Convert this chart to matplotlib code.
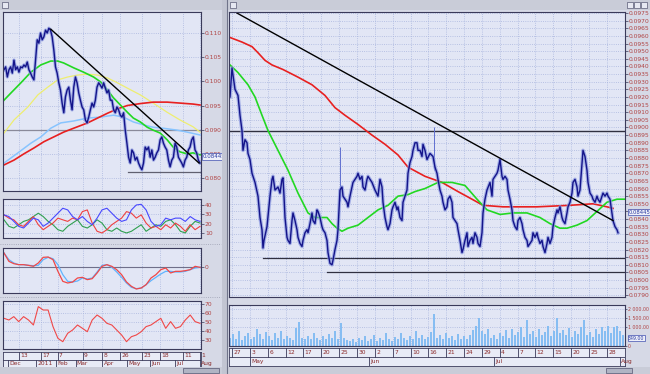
import matplotlib
matplotlib.use('Agg')
import matplotlib.pyplot as plt
import matplotlib.transforms as mtransforms
from matplotlib.patches import Rectangle
from matplotlib.lines import Line2D
import numpy as np

# ---------------- right window: intraday bars, 27 Apr - 1 Aug ----------------
r_bar = [0, 2, 5, 8, 10, 12, 13, 15, 17, 18,
         20, 22, 25, 28, 30, 32, 33, 34, 37, 40,
         42, 43, 45, 48, 50, 52, 53, 54, 55, 57,
         58, 60, 62, 63, 65, 67, 68, 70, 72, 73,
         75, 77, 78, 80, 82, 83, 85, 87, 88, 90,
         92, 93, 95, 97, 98, 100, 102, 103, 105, 107,
         108, 110, 112, 113, 115, 117, 118, 120, 122, 123,
         125, 127, 128, 130, 132, 133, 135, 137, 138, 142,
         145, 148, 150, 152, 153, 155, 157, 158, 160, 162,
         163, 165, 167, 168, 170, 172, 173, 175, 177, 178,
         180, 182, 183, 185, 187, 188, 190, 192, 193, 195,
         197, 200, 203, 205, 207, 208, 210, 212, 213, 215,
         217, 218, 220, 222, 223, 227, 228, 230, 232, 233,
         235, 237, 238, 240, 242, 243, 245, 247, 248, 250,
         252, 253, 255, 257, 260, 262, 263, 265, 267, 268,
         270, 272, 273, 275, 277, 278, 280, 282, 283, 285,
         287, 288, 290, 292, 293, 295, 297, 298, 300, 302,
         303, 305, 307, 308, 310, 312, 313, 315, 317, 318,
         320, 322, 323, 325, 327, 328, 330, 332, 333, 335,
         337, 338, 340, 342, 343, 345, 347, 348, 350, 352,
         353, 355, 357, 358, 360, 362, 363, 365, 367, 368,
         370, 372, 373, 375, 377, 378, 380, 382, 383, 385,
         387, 388]
r_close = [0.0920, 0.0939, 0.0925, 0.0921, 0.0908, 0.0898, 0.0885, 0.0892, 0.0890, 0.0883,
           0.0879, 0.0870, 0.0864, 0.0855, 0.0841, 0.0833, 0.0821, 0.0826, 0.0835, 0.0855,
           0.0866, 0.0868, 0.0859, 0.0861, 0.0857, 0.0866, 0.0867, 0.0855, 0.0841, 0.0828,
           0.0826, 0.0824, 0.0839, 0.0844, 0.0839, 0.0833, 0.0828, 0.0824, 0.0822, 0.0826,
           0.0831, 0.0833, 0.0831, 0.0837, 0.0844, 0.0839, 0.0837, 0.0846, 0.0845, 0.0841,
           0.0835, 0.0833, 0.0831, 0.0826, 0.0818, 0.0811, 0.0810, 0.0813, 0.0820, 0.0826,
           0.0833, 0.0859, 0.0861, 0.0855, 0.0853, 0.0851, 0.0848, 0.0855, 0.0861, 0.0864,
           0.0866, 0.0868, 0.0870, 0.0866, 0.0868, 0.0861, 0.0859, 0.0866, 0.0868, 0.0864,
           0.0859, 0.0855, 0.0866, 0.0861, 0.0851, 0.0841, 0.0835, 0.0833, 0.0837, 0.0846,
           0.0848, 0.0851, 0.0846, 0.0848, 0.0841, 0.0839, 0.0851, 0.0855, 0.0859, 0.0870,
           0.0877, 0.0881, 0.0885, 0.0890, 0.0890, 0.0885, 0.0885, 0.0881, 0.0889, 0.0885,
           0.0879, 0.0883, 0.0881, 0.0874, 0.0870, 0.0866, 0.0859, 0.0855, 0.0851, 0.0846,
           0.0848, 0.0853, 0.0855, 0.0851, 0.0841, 0.0837, 0.0833, 0.0826, 0.0818, 0.0820,
           0.0826, 0.0831, 0.0822, 0.0826, 0.0828, 0.0824, 0.0831, 0.0828, 0.0824, 0.0822,
           0.0831, 0.0844, 0.0853, 0.0859, 0.0864, 0.0855, 0.0866, 0.0868, 0.0870, 0.0872,
           0.0879, 0.0868, 0.0866, 0.0868, 0.0866, 0.0859, 0.0853, 0.0846, 0.0839, 0.0835,
           0.0833, 0.0839, 0.0841, 0.0837, 0.0833, 0.0828, 0.0826, 0.0822, 0.0824, 0.0826,
           0.0831, 0.0828, 0.0831, 0.0828, 0.0824, 0.0826, 0.0822, 0.0818, 0.0824, 0.0828,
           0.0824, 0.0828, 0.0835, 0.0841, 0.0846, 0.0844, 0.0848, 0.0841, 0.0839, 0.0837,
           0.0844, 0.0848, 0.0851, 0.0857, 0.0864, 0.0866, 0.0861, 0.0855, 0.0859, 0.0877,
           0.0885, 0.0881, 0.0872, 0.0864, 0.0857, 0.0855, 0.0853, 0.0851, 0.0855, 0.0853,
           0.0851, 0.0855, 0.0857, 0.0855, 0.0857, 0.0855, 0.0853, 0.0844, 0.0839, 0.0835,
           0.0833, 0.0831]
r_spike_bar = [110, 204]
r_spike_lo = [0.0852, 0.0872]
r_spike_hi = [0.0887, 0.0900]

r_red_bar = [0, 12, 22, 28, 35, 42, 53, 68, 82, 95, 105, 115, 128, 142, 155, 168,
             178, 195, 212, 228, 242, 253, 273, 307, 340, 363, 377, 383]
r_red = [0.0959, 0.0956, 0.0953, 0.0949, 0.0944, 0.0941, 0.0938, 0.0933, 0.0928, 0.0921,
         0.0913, 0.0908, 0.0902, 0.0895, 0.0889, 0.0882, 0.0874, 0.0868, 0.0864, 0.0858,
         0.0853, 0.0849, 0.0848, 0.0848, 0.0849, 0.0850, 0.0848, 0.0847]
r_green_bar = [0, 8, 18, 25, 32, 38, 48, 58, 68, 78, 85, 92, 97, 102, 107, 112, 118, 128,
               138, 148, 158, 168, 178, 185, 195, 208, 222, 235, 247, 257, 270, 283, 297,
               310, 320, 330, 337, 347, 357, 367, 377, 387, 395]
r_green = [0.0941, 0.0936, 0.0928, 0.0920, 0.0908, 0.0898, 0.0885, 0.0872, 0.0857, 0.0844,
           0.0841, 0.0841, 0.0841, 0.0837, 0.0834, 0.0832, 0.0834, 0.0836, 0.0841, 0.0846,
           0.0849, 0.0855, 0.0856, 0.0858, 0.0860, 0.0864, 0.0864, 0.0862, 0.0853, 0.0846,
           0.0843, 0.0844, 0.0844, 0.0841, 0.0837, 0.0834, 0.0834, 0.0836, 0.0839, 0.0845,
           0.0851, 0.0853, 0.0853]

r_trend_bar = [7, 383]
r_trend = [0.0975, 0.0839]
r_level = 0.0898
r_support_start = [33, 97]
r_support = [0.08145, 0.08053]
r_last = 0.08445

r_vol = [420, 650, 380, 820, 300, 560, 700, 350, 480, 900,
         620, 400, 750, 520, 300, 680, 450, 820, 380, 560,
         420, 300, 980, 1300, 450, 380, 520, 350, 700, 420,
         300, 520, 380, 620, 450, 800, 350, 1250, 420, 300,
         250, 380, 200, 450, 300, 520, 280, 350, 600, 250,
         420, 300, 680, 380, 250, 500, 350, 700, 420, 300,
         550, 380, 800, 450, 600, 350, 500, 750, 1700, 420,
         600, 380, 700, 450, 550, 300, 650, 400, 520, 350,
         600, 850, 1100, 1500, 800, 650, 900, 450, 600, 380,
         700, 550, 850, 420, 900, 600, 750, 1000, 500, 1400,
         650, 800, 500, 900, 600, 750, 1100, 550, 800, 1500,
         700, 850, 600, 950, 500, 800, 650, 1000, 1400, 600,
         750, 500, 900, 650, 1000, 800, 1100, 700, 1000, 1100,
         800, 600]

r_day_bar = [2, 20, 38, 56, 73, 91, 109, 127, 145, 163, 181, 198, 216, 234, 252, 270,
             288, 305, 323, 341, 359, 377]
r_day_lbl = ['27', '3', '6', '12', '17', '20', '25', '30', '2', '7', '10', '16', '21', '24',
             '29', '4', '7', '12', '15', '20', '25', '28']
r_mon_bar = [20, 139, 264, 390]
r_mon_lbl = ['May', 'Jun', 'Jul', 'Aug']

# ---------------- left window: daily, Dec 2010 - Aug 2011 ----------------
l_close = [0.1024, 0.1030, 0.1009, 0.1024, 0.1030, 0.1017, 0.1044, 0.1024, 0.1030, 0.1019,
           0.1030, 0.1028, 0.1034, 0.1030, 0.1040, 0.1024, 0.1017, 0.1009, 0.1003, 0.1044,
           0.1086, 0.1079, 0.1100, 0.1086, 0.1092, 0.1106, 0.1100, 0.1110, 0.1106, 0.1092,
           0.1065, 0.1030, 0.1017, 0.0997, 0.0982, 0.0955, 0.0935, 0.0968, 0.0982, 0.0988,
           0.0961, 0.0941, 0.0988, 0.1009, 0.0997, 0.0976, 0.0961, 0.0947, 0.0941, 0.0920,
           0.0914, 0.0926, 0.0941, 0.0955, 0.0947, 0.0961, 0.0988, 0.0997, 0.0992, 0.0986,
           0.0997, 0.0986, 0.0976, 0.0982, 0.0961, 0.0961, 0.0941, 0.0935, 0.0947, 0.0941,
           0.0930, 0.0926, 0.0935, 0.0899, 0.0872, 0.0843, 0.0831, 0.0858, 0.0852, 0.0837,
           0.0843, 0.0831, 0.0823, 0.0817, 0.0831, 0.0864, 0.0858, 0.0864, 0.0843, 0.0858,
           0.0837, 0.0843, 0.0852, 0.0858, 0.0879, 0.0885, 0.0872, 0.0864, 0.0858, 0.0837,
           0.0823, 0.0837, 0.0843, 0.0872, 0.0864, 0.0843, 0.0837, 0.0831, 0.0823, 0.0837,
           0.0843, 0.0858, 0.0864, 0.0879, 0.0885, 0.0858, 0.0852, 0.0837, 0.0831]

l_green_day = [0, 7, 17, 27, 37, 47, 54, 60, 70, 80, 90, 97, 104, 110, 117, 124, 130, 137,
               144, 150, 157, 164, 170, 177, 184, 190, 197]
l_green = [0.0961, 0.0976, 0.0997, 0.1019, 0.1034, 0.1042, 0.1042, 0.1038, 0.1028, 0.1019,
           0.1009, 0.0999, 0.0982, 0.0966, 0.0951, 0.0936, 0.0924, 0.0916, 0.0905, 0.0899,
           0.0893, 0.0879, 0.0864, 0.0854, 0.0850, 0.0852, 0.0848]
l_red_day = [0, 10, 20, 30, 40, 50, 60, 70, 84, 94, 104, 114, 124, 137, 150, 164, 177, 190, 197]
l_red = [0.0827, 0.0837, 0.0850, 0.0862, 0.0875, 0.0885, 0.0895, 0.0903, 0.0914, 0.0924,
         0.0934, 0.0943, 0.0950, 0.0954, 0.0957, 0.0957, 0.0955, 0.0953, 0.0951]
l_blue_day = [0, 14, 27, 37, 47, 57, 70, 84, 97, 110, 120, 130, 140, 150, 160, 174, 184, 197]
l_blue = [0.0831, 0.0852, 0.0872, 0.0885, 0.0903, 0.0914, 0.0918, 0.0924, 0.0926, 0.0930,
          0.0926, 0.0916, 0.0910, 0.0905, 0.0903, 0.0899, 0.0895, 0.0889]
l_yellow_day = [0, 10, 24, 34, 44, 54, 64, 74, 84, 94, 104, 114, 124, 137, 150, 164, 177, 190, 197]
l_yellow = [0.0893, 0.0920, 0.0947, 0.0972, 0.0988, 0.1003, 0.1009, 0.1013, 0.1015, 0.1013,
            0.1007, 0.0997, 0.0986, 0.0972, 0.0955, 0.0936, 0.0920, 0.0906, 0.0895]

l_trend_day = [47, 196]
l_trend = [0.1108, 0.0831]
l_level = 0.0900
l_support_start = 125
l_support = 0.0813
l_last = 0.08445

l_dmi_blue = [29.4, 27.6, 22.4, 17.1, 15.3, 20.6, 25.9, 24.1, 17.1, 20.6, 25.9, 31.2, 36.5, 34.7,
              27.6, 24.1, 27.6, 22.4, 18.8, 25.9, 34.7, 36.5, 31.2, 25.9, 22.4, 24.1, 34.7, 40.0,
              40.7, 34.7, 22.4, 17.1, 18.8, 25.9, 24.1, 25.9, 25.9, 22.4, 27.6, 24.1, 22.4]
l_dmi_red = [29.4, 25.9, 24.1, 18.8, 17.1, 22.4, 27.6, 18.8, 13.5, 17.1, 20.6, 25.9, 24.1, 22.4,
             25.9, 24.1, 32.9, 34.7, 20.6, 11.8, 10.0, 13.5, 18.8, 22.4, 25.9, 32.9, 31.2, 25.9,
             29.4, 20.6, 15.3, 17.1, 13.5, 18.8, 15.3, 20.6, 17.1, 11.8, 18.8, 13.5, 17.1]
l_dmi_green = [24.1, 17.1, 15.3, 18.8, 22.4, 24.1, 27.6, 31.2, 27.6, 22.4, 18.8, 13.5, 11.8, 17.1,
               20.6, 24.1, 17.1, 15.3, 18.8, 24.1, 20.6, 13.5, 11.8, 15.3, 11.8, 10.0, 11.8, 15.3,
               18.8, 11.8, 15.3, 18.8, 17.1, 22.4, 24.1, 18.8, 11.8, 10.0, 17.1, 22.4, 20.6]
l_macd = [4.3, 1.8, 1.1, 0.8, 0.8, 0.6, 0.3, 1.3, 3.0, 3.1, 2.3, -1.2, -4.2, -4.7, -4.4, -3.2,
          -3.0, -3.7, -3.4, -1.7, 0.3, 0.8, 0.3, -0.7, -2.2, -4.4, -5.7, -6.5, -6.2, -5.2, -3.2,
          -2.2, -0.7, -0.2, -1.7, -1.2, -1.2, -1.0, -0.7, 0.3, 0.0]
l_signal = [4.3, 2.3, 1.3, 0.8, 0.8, 0.6, 0.5, 0.6, 2.3, 3.0, 2.6, 0.8, -2.2, -4.2, -4.4, -4.1,
            -3.2, -3.5, -3.2, -1.4, 0.6, 0.8, 0.0, -1.4, -3.0, -4.7, -6.0, -6.4, -6.2, -5.2, -4.0,
            -3.0, -2.0, -1.2, -1.2, -1.4, -1.4, -1.2, -0.7, -0.2, 0.0]
l_rsi = [54.3, 52.4, 56.2, 50.6, 56.2, 52.4, 46.8, 67.4, 63.6, 63.6, 45.0, 31.9, 28.1, 37.5,
         41.2, 46.8, 43.1, 39.3, 52.4, 58.0, 54.3, 48.7, 46.8, 41.2, 35.6, 28.1, 33.7, 35.6,
         39.3, 45.0, 46.8, 50.6, 54.3, 43.1, 50.6, 43.1, 45.0, 52.4, 58.0, 50.6, 48.7]

l_day_sep = [15, 37, 54, 79, 99, 117, 139, 157, 180, 197]
l_day_lbl = ['13', '17', '7', '9', '8', '26', '23', '18', '11', '1']
l_mon_sep = [4, 32, 52, 72, 99, 124, 147, 172, 197]
l_mon_lbl = ['Dec', '2011', 'Feb', 'Mar', 'Apr', 'May', 'Jun', 'Jul', 'Aug']

# ---------------- drawing ----------------
W, H = 650, 374
BG = '#e2e6f5'
FRAME = '#d6d9e6'
GRID = '#a9b5de'
EDGE = '#3a3a5a'
TXT = '#b04444'
DATE = '#8a2a2a'
NAVY = '#14148a'

fig = plt.figure(figsize=(W / 100, H / 100), dpi=100, facecolor=FRAME)


def rect(x, y, w, h, fc, ec='none', lw=0.6):
    fig.add_artist(Rectangle((x / W, 1 - (y + h) / H), w / W, h / H,
                             transform=fig.transFigure, fc=fc, ec=ec, lw=lw))


def panel(x0, y0, x1, y1, fs=4.3, tlen=2):
    ax = fig.add_axes([x0 / W, 1 - y1 / H, (x1 - x0) / W, (y1 - y0) / H])
    ax.set_facecolor(BG)
    for s in ax.spines.values():
        s.set_color(EDGE)
        s.set_linewidth(0.8)
    ax.yaxis.tick_right()
    ax.tick_params(axis='y', labelsize=fs, colors=EDGE, labelcolor=TXT,
                   length=tlen, width=0.5, pad=0.8)
    ax.tick_params(axis='x', length=0, labelbottom=False)
    ax.grid(True, ls=':', lw=0.6, color=GRID)
    ax.set_axisbelow(True)
    return ax


def last_box(ax, val, txt, fs=4.3):
    tr = mtransforms.blended_transform_factory(ax.transAxes, ax.transData)
    ax.text(1.008, val, txt, transform=tr, fontsize=fs, color='#2a3aa0', va='center',
            ha='left', zorder=10,
            bbox=dict(boxstyle='square,pad=0.12', fc='#eef0fa', ec='#4050b0', lw=0.5))


def date_axis(x0, x1, y0, hgt, xlim, day_pos, day_lbl, mon_pos, mon_lbl):
    ax = fig.add_axes([x0 / W, 1 - (y0 + hgt) / H, (x1 - x0) / W, hgt / H])
    ax.set_facecolor('#e8ebf6')
    ax.set_xlim(*xlim)
    ax.set_ylim(0, 2)
    ax.set_xticks([])
    ax.set_yticks([])
    for s in ax.spines.values():
        s.set_color(EDGE)
        s.set_linewidth(0.6)
    ax.axhline(1, color=EDGE, lw=0.6)
    for p, t in zip(day_pos, day_lbl):
        ax.plot([p, p], [1, 2], color=EDGE, lw=0.6)
        ax.text(p + 1.2, 1.5, t, fontsize=4.3, color=DATE, va='center', clip_on=False)
    for p, t in zip(mon_pos, mon_lbl):
        ax.plot([p, p], [0, 1], color=EDGE, lw=0.6)
        ax.text(p + 1.2, 0.5, t, fontsize=4.3, color=DATE, va='center', clip_on=False)
    return ax


# window chrome
rect(0, 0, 650, 10, '#c9ccd8')
rect(0, 367, 650, 7, '#c9ccd8')
rect(183, 368, 36, 5, '#b0b4c4', EDGE, 0.4)
rect(606, 368, 26, 5, '#b0b4c4', EDGE, 0.4)
rect(222, 0, 6, 374, '#c2c5d2')
fig.add_artist(Line2D([227.5 / W] * 2, [0, 1], color='#70748a', lw=0.8))
rect(2, 2, 6, 6, '#e6e8f2', EDGE, 0.4)
rect(230, 2, 6, 6, '#e6e8f2', EDGE, 0.4)
for bx in [627, 634, 641]:
    rect(bx, 2, 6, 6, '#e6e8f2', EDGE, 0.4)

# ---- right main chart ----
ax = panel(229, 12, 625, 297)
ax.set_xlim(-1, 395)
ax.set_ylim(0.07889, 0.09757)
ax.set_xticks(r_day_bar)
ticks = [round(0.0790 + 0.0005 * i, 4) for i in range(38)]
ax.set_yticks(ticks)
ax.set_yticklabels([f'{t:.4f}' for t in ticks])
ax.axhline(r_level, color='#303040', lw=1.0)
for s, v in zip(r_support_start, r_support):
    ax.plot([s, 395], [v, v], color='#303040', lw=0.9)
ax.plot(r_red_bar, r_red, color='#e82020', lw=1.2)
ax.plot(r_green_bar, r_green, color='#22d822', lw=1.2)
ax.vlines(r_spike_bar, r_spike_lo, r_spike_hi, color='#6070d0', lw=0.7)
ax.plot(r_bar, r_close, color='#8896e0', lw=2.6, alpha=0.7)
ax.plot(r_bar, r_close, color=NAVY, lw=1.0)
ax.plot(r_trend_bar, r_trend, color='black', lw=1.0)
last_box(ax, r_last, f'{r_last:.5f}', 3.8)

# ---- right volume ----
av = panel(229, 305, 625, 346, fs=3.4, tlen=1.2)
av.set_xlim(-1, 395)
av.set_ylim(0, 2200)
av.set_xticks(r_day_bar)
av.set_yticks([0, 1000, 1500, 2000])
av.set_yticklabels(['0', '1 000.00', '1 500.00', '2 000.00'])
av.bar(np.arange(0, 3 * len(r_vol), 3), r_vol, width=2.2, color='#86bdf2', lw=0)
last_box(av, 420, '349.00', 3.4)

date_axis(229, 625, 348, 18, (-1, 395), r_day_bar, r_day_lbl, r_mon_bar, r_mon_lbl)

# ---- left main chart ----
al = panel(3, 12, 201, 191)
al.set_xlim(-1, 198)
al.set_ylim(0.07731, 0.11435)
al.set_xticks(l_day_sep)
lt = [0.080, 0.085, 0.090, 0.095, 0.100, 0.105, 0.110]
al.set_yticks(lt)
al.set_yticklabels([f'{t:.3f}' for t in lt])
al.axhline(l_level, color='#8a8a9a', lw=0.9)
al.plot([l_support_start, 197], [l_support, l_support], color='#606070', lw=0.9)
al.plot(l_yellow_day, l_yellow, color='#eeee70', lw=0.9)
al.plot(l_blue_day, l_blue, color='#88c4ff', lw=1.1)
al.plot(l_red_day, l_red, color='#e82020', lw=1.2)
al.plot(l_green_day, l_green, color='#22d822', lw=1.2)
lx = np.linspace(0, 197, len(l_close))
al.plot(lx, l_close, color='#8896e0', lw=2.4, alpha=0.7)
al.plot(lx, l_close, color=NAVY, lw=1.0)
al.plot(l_trend_day, l_trend, color='black', lw=1.0)
last_box(al, l_last, f'{l_last:.5f}', 4.0)

ix = np.linspace(0, 197, 41)

# DMI-style panel
a2 = panel(3, 199, 201, 238)
a2.set_xlim(-1, 198)
a2.set_ylim(4.6, 46.4)
a2.set_xticks(l_day_sep)
a2.set_yticks([10, 20, 30, 40])
a2.plot(ix, l_dmi_green, color='#30a050', lw=0.8)
a2.plot(ix, l_dmi_red, color='#f04040', lw=0.8)
a2.plot(ix, l_dmi_blue, color='#4848ff', lw=0.8)

# MACD panel
a3 = panel(3, 248, 201, 293)
a3.set_xlim(-1, 198)
a3.set_ylim(-7.7, 5.8)
a3.set_xticks(l_day_sep)
a3.set_yticks([0])
a3.axhline(0, color='#70708a', lw=0.8)
a3.plot(ix, l_signal, color='#60b4ff', lw=0.9)
a3.plot(ix, l_macd, color='#f04848', lw=0.9)

# RSI-style panel
a4 = panel(3, 301, 201, 349)
a4.set_xlim(-1, 198)
a4.set_ylim(19.9, 73.7)
a4.set_xticks(l_day_sep)
a4.set_yticks([30, 40, 50, 60, 70])
a4.plot(ix, l_rsi, color='#f04848', lw=0.8)

for yy in [244.5, 296.5]:
    fig.add_artist(Line2D([0, 221 / W], [1 - yy / H] * 2, color='#9a9eb0', lw=0.6, ls=':'))

date_axis(3, 201, 352, 15, (-1, 198), l_day_sep, l_day_lbl, l_mon_sep, l_mon_lbl)

fig.savefig('out.png', dpi=100, facecolor=FRAME)
